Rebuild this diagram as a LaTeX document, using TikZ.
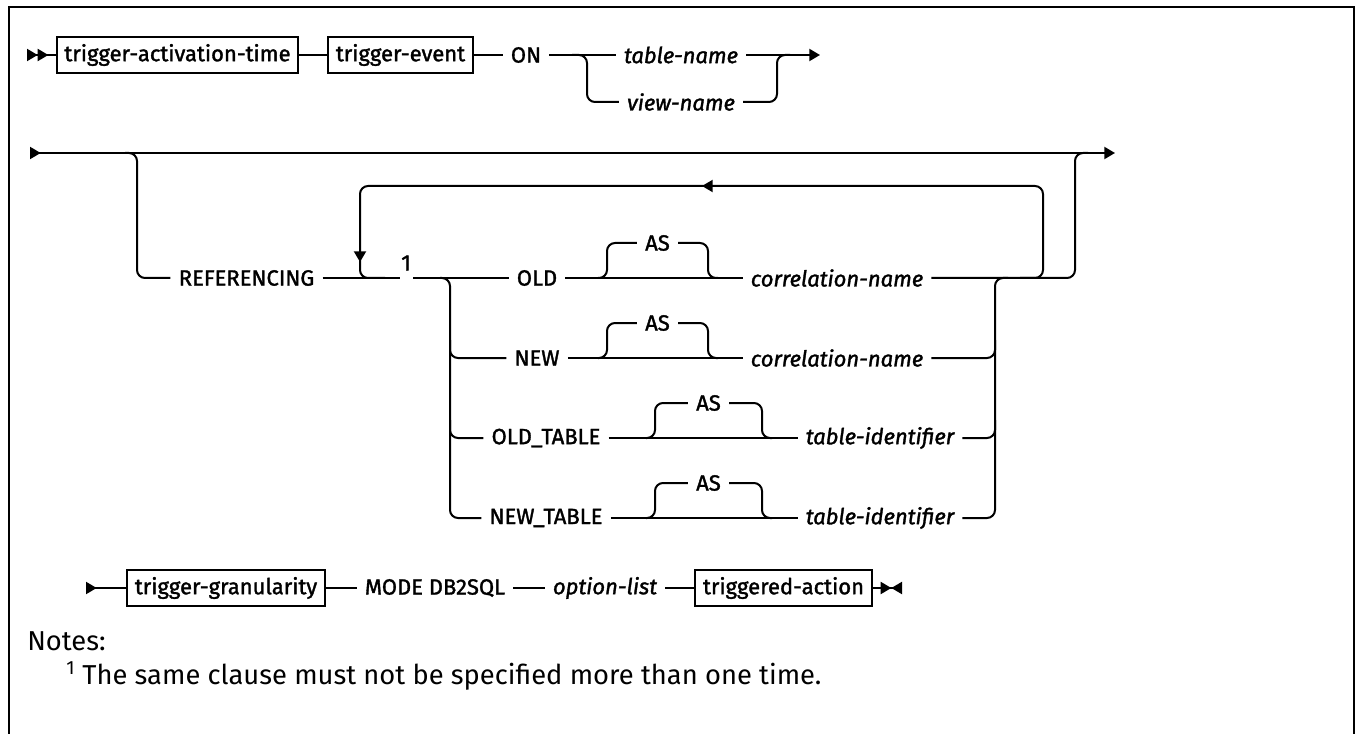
\documentclass[tikz,border=0pt]{standalone}
\usepackage{fontspec}
\setmainfont{Fira Sans}
\newfontfamily\railfont[RawFeature={embolden=1.5}]{Fira Sans}
\usetikzlibrary{arrows.meta}
\newcommand{\railsize}{\fontsize{16.5}{19}\selectfont}

\begin{document}
\begin{tikzpicture}[x=0.75pt,y=-0.75pt,every node/.style={font=\railfont\railsize}]
    \tikzset{
      rail/.style={line width=1.5pt,rounded corners=6pt},
      kw/.style={inner xsep=6pt,inner ysep=2pt},
      var/.style={kw,font=\railfont\itshape\railsize},
      ntbox/.style={draw,line width=1.5pt,minimum height=27pt,inner sep=0pt},
      rtip/.tip={Triangle[length=8pt,width=9pt]},
      ltip/.tip={Triangle[length=8pt,width=9pt,reversed]}
    }
    % keyword -- optional AS -- value
    \newcommand{\asrow}[8]{%
      \node[kw] (#1k) at (#4,#2) {#3};
      \node[kw] (#1a) at ({(#5+#6)/2},#2-35) {AS};
      \node[var] (#1v) at (#8,#2) {#7};
      \draw[rail] (#1k.east) -- (#1v.west);
      \draw[rail] (#5-9,#2) -| (#5,#2-35) -- (#1a.west);
      \draw[rail] (#1a.east) -| (#6,#2) -- (#6+10,#2);
    }
    \useasboundingbox (0,0) rectangle (1356,734);
    \draw[line width=2pt] (9,734) -- (9,7) -- (1354,7) -- (1354,734);

    % first line
    \coordinate (s1) at (27,55);
    \node[ntbox,minimum width=180.75pt] (tat) at (177.5,55) {trigger-activation-time};
    \node[ntbox,minimum width=108.75pt] (tev) at (400.5,55) {trigger-event};
    \node[kw] (on) at (526,55) {ON};
    \node[var] (tn) at (681,55) {table-name};
    \node[var] (vn) at (681,102) {view-name};
    \coordinate (e1) at (820,55);
    \draw[rail,{ltip[]ltip[]}-] (s1) -- (tat.west);
    \draw[rail] (tat.east) -- (tev.west);
    \draw[rail] (tev.east) -- (on.west);
    \draw[rail] (on.east) -- (tn.west);
    \draw[rail] (572,55) -| (587,102) -- (vn.west);
    \draw[rail,-{rtip[]}] (tn.east) -- (e1);
    \draw[rail] (vn.east) -| (777,55) -- (790,55);

    % second line
    \coordinate (s2) at (30,153);
    \coordinate (e2) at (1115,153);
    \draw[rail,{ltip[]}-{rtip[]}] (s2) -- (e2);
    \node[kw] (ref) at (246.5,278) {REFERENCING};
    \node[kw] (fn) at (406,263) {1};
    \draw[rail] (125,153) -| (137,278) -- (ref.west);
    \draw[rail] (ref.east) -- (400,278);

    \asrow{old}{278}{OLD}{537}{607}{708}{correlation-name}{837}
    \asrow{new}{358}{NEW}{537}{607}{708}{correlation-name}{837}
    \asrow{otab}{438}{OLD\_TABLE}{546}{655}{762}{table-identifier}{880}
    \asrow{ntab}{518}{NEW\_TABLE}{546}{655}{762}{table-identifier}{880}

    \draw[rail] (413,278) -- (oldk.west);
    \draw[rail] (440,278) -| (450,518) -- (ntabk.west);
    \draw[rail] (450,340) |- (newk.west);
    \draw[rail] (450,420) |- (otabk.west);
    \draw[rail] (ntabv.east) -| (995,278) -- (1008,278);
    \draw[rail] (newv.east) -| (995,340);
    \draw[rail] (otabv.east) -| (995,420);
    \draw[rail] (oldv.east) -| (1075,153) -- (1088,153);
    % repeat loop
    \draw[rail,-{rtip[]}] (1020,278) -| (1043,186) -- (702,186);
    \draw[rail,-{rtip[]}] (712,186) -| (360,262);
    \draw[rail] (360,256) |- (385,278);

    % third line
    \coordinate (s3) at (86,588);
    \node[ntbox,minimum width=148.5pt] (tgr) at (226,588) {trigger-granularity};
    \node[kw] (mode) at (435,588) {MODE DB2SQL};
    \node[var] (opt) at (605,588) {option-list};
    \node[ntbox,minimum width=132.75pt] (tac) at (783.5,588) {triggered-action};
    \coordinate (e3) at (902,588);
    \draw[rail,{ltip[]}-] (s3) -- (tgr.west);
    \draw[rail] (tgr.east) -- (mode.west);
    \draw[rail] (mode.east) -- (opt.west);
    \draw[rail] (opt.east) -- (tac.west);
    \draw[rail,-{rtip[]ltip[]}] (tac.east) -- (e3);

    % notes
    \node[anchor=west,inner sep=0pt,font=\fontsize{20.5}{24}\selectfont] (notes) at (27,641) {Notes:};
    \node[anchor=west,inner sep=0pt,font=\fontsize{20.5}{24}\selectfont] (note1) at (66,676)
      {\textsuperscript{1} The same clause must not be specified more than one time.};
\end{tikzpicture}
\end{document}
